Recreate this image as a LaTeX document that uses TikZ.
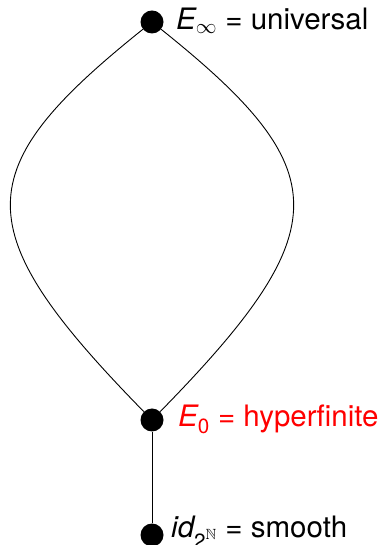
\documentclass[tikz,border=0pt]{standalone}
\usepackage{amsmath, amssymb}
\usepackage{fontspec}
\setmainfont{TeX Gyre Heros}
\usepackage{tikz}
\usetikzlibrary{positioning}
\tikzset{
  vertex/.style={circle, fill=black, inner sep=0pt, minimum size=23},
  vlabel/.style={anchor=base west, inner sep=0pt,
                 font=\fontsize{29.5}{35}\selectfont},
  link/.style={line width=0.9pt},
}

\begin{document}
\begin{tikzpicture}[x=1pt,y=1pt]
  \useasboundingbox (0,0) rectangle (380,545);
  % vertices
  \node[vertex] (univ) at (152,523) {};
  \node[vertex] (hyp) at (152,125) {};
  \node[vertex] (smooth) at (152,10) {};
  % labels
  \node[vlabel] (univ-lbl) at (176,515) {$\textit{E}_\infty$ = universal};
  \node[vlabel,text=red] (hyp-lbl) at (178,118) {$\textit{E}_{\textup{0}}$ = hyperfinite};
  \node[vlabel] (smooth-lbl) at (171,7) {$\textit{id}_{\textup{2}^{\mathbb{N}}}$ = smooth};
  % lens between E_infty and E_0
  \draw[link] (univ) .. controls (-33,375) and (-35,316) .. (hyp);
  \draw[link] (univ) .. controls (337,375) and (339,316) .. (hyp);
  \draw[link] (hyp) -- (smooth);
\end{tikzpicture}
\end{document}
